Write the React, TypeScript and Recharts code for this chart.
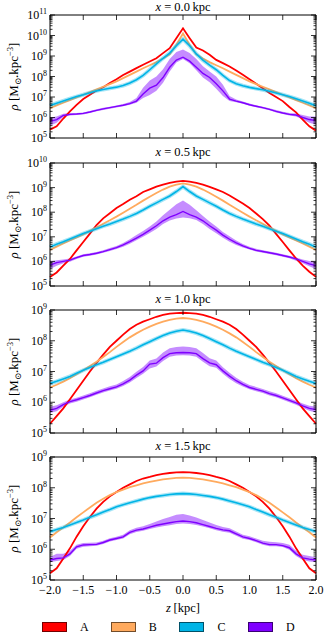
import React from 'react';
import { ComposedChart, Line, Area, XAxis, YAxis } from 'recharts';

// z grid in kpc
const zValues = [
  -2.0, -1.9, -1.8, -1.7, -1.6, -1.5, -1.4, -1.3, -1.2, -1.1, -1.0, -0.9, -0.8, -0.7,
  -0.6, -0.5, -0.4, -0.3, -0.2, -0.1, 0.0, 0.1, 0.2, 0.3, 0.4, 0.5, 0.6, 0.7, 0.8, 0.9,
  1.0, 1.1, 1.2, 1.3, 1.4, 1.5, 1.6, 1.7, 1.8, 1.9, 2.0,
];

// all densities below are log10(rho)
// x = 0.0 kpc
const a0 = [5.41, 5.57, 5.95, 6.30, 6.62, 6.90, 7.11, 7.32, 7.48, 7.68, 7.87, 8.07, 8.24, 8.41, 8.57, 8.73, 8.89, 9.14, 9.38, 9.87, 10.35,
  9.87, 9.41, 9.27, 9.06, 8.81, 8.65, 8.49, 8.29, 8.08, 7.87, 7.65, 7.43, 7.19, 7.00, 6.80, 6.51, 6.25, 5.90, 5.57, 5.36];
const b0 = [6.46, 6.59, 6.72, 6.85, 6.98, 7.11, 7.24, 7.37, 7.50, 7.63, 7.76, 7.92, 8.08, 8.24, 8.40, 8.55, 8.70, 8.88, 9.08, 9.55, 10.10,
  9.55, 9.08, 8.88, 8.70, 8.55, 8.40, 8.24, 8.08, 7.92, 7.76, 7.63, 7.50, 7.37, 7.24, 7.11, 6.98, 6.85, 6.72, 6.59, 6.46];
const c0 = [6.58, 6.70, 6.81, 6.92, 7.02, 7.11, 7.21, 7.30, 7.37, 7.43, 7.48, 7.56, 7.68, 7.84, 8.05, 8.33, 8.62, 8.89, 9.14, 9.50, 9.82,
  9.50, 9.10, 8.80, 8.55, 8.33, 8.05, 7.80, 7.65, 7.55, 7.47, 7.41, 7.35, 7.28, 7.20, 7.11, 7.02, 6.92, 6.81, 6.69, 6.57];
const d0 = [5.81, 5.90, 6.10, 6.15, 6.17, 6.20, 6.27, 6.35, 6.42, 6.48, 6.54, 6.60, 6.68, 6.80, 7.15, 7.43, 7.58, 7.95, 8.45, 8.80, 8.94,
  8.75, 8.45, 8.15, 7.95, 7.65, 7.30, 6.90, 6.80, 6.72, 6.62, 6.55, 6.48, 6.40, 6.30, 6.22, 6.15, 6.12, 6.00, 5.90, 5.85];
const dLo0 = [5.60, 5.75, 6.02, 6.10, 6.12, 6.15, 6.22, 6.30, 6.37, 6.43, 6.49, 6.55, 6.62, 6.72, 6.95, 7.10, 7.30, 7.70, 8.25, 8.68, 8.85,
  8.65, 8.30, 7.95, 7.72, 7.40, 7.05, 6.80, 6.74, 6.67, 6.57, 6.50, 6.43, 6.35, 6.25, 6.17, 6.10, 6.05, 5.90, 5.75, 5.65];
const dHi0 = [6.00, 6.05, 6.18, 6.22, 6.22, 6.25, 6.32, 6.40, 6.47, 6.53, 6.59, 6.66, 6.76, 6.95, 7.45, 7.80, 8.00, 8.35, 8.85, 9.20, 9.32,
  9.15, 8.85, 8.50, 8.25, 8.00, 7.60, 7.05, 6.88, 6.78, 6.68, 6.60, 6.53, 6.45, 6.36, 6.28, 6.22, 6.20, 6.12, 6.05, 6.05];

// x = 0.5 kpc
const a1 = [5.37, 5.55, 5.83, 6.10, 6.45, 6.79, 7.13, 7.48, 7.75, 7.96, 8.17, 8.33, 8.51, 8.65, 8.82, 8.93, 9.04, 9.12, 9.19, 9.24, 9.27,
  9.24, 9.19, 9.12, 9.03, 8.93, 8.82, 8.68, 8.52, 8.35, 8.17, 7.95, 7.72, 7.45, 7.12, 6.79, 6.45, 6.12, 5.83, 5.58, 5.37];
const b1 = [6.47, 6.60, 6.73, 6.85, 6.97, 7.10, 7.24, 7.38, 7.53, 7.67, 7.82, 7.98, 8.14, 8.30, 8.47, 8.63, 8.78, 8.92, 9.04, 9.12, 9.17,
  9.12, 9.04, 8.92, 8.78, 8.63, 8.47, 8.30, 8.14, 7.98, 7.82, 7.67, 7.53, 7.38, 7.24, 7.10, 6.97, 6.85, 6.73, 6.60, 6.47];
const c1 = [6.58, 6.70, 6.80, 6.91, 7.02, 7.13, 7.23, 7.33, 7.43, 7.52, 7.62, 7.72, 7.83, 7.95, 8.09, 8.24, 8.38, 8.52, 8.66, 8.84, 9.04,
  8.84, 8.66, 8.52, 8.38, 8.24, 8.09, 7.95, 7.83, 7.72, 7.62, 7.52, 7.43, 7.33, 7.23, 7.13, 7.02, 6.91, 6.80, 6.70, 6.58];
const d1 = [5.85, 5.95, 6.00, 6.05, 6.15, 6.24, 6.28, 6.33, 6.40, 6.48, 6.56, 6.67, 6.80, 6.95, 7.10, 7.27, 7.45, 7.65, 7.80, 7.90, 8.03,
  7.90, 7.80, 7.65, 7.45, 7.27, 7.07, 6.90, 6.75, 6.63, 6.53, 6.45, 6.40, 6.35, 6.30, 6.24, 6.18, 6.10, 6.00, 5.90, 5.83];
const dLo1 = [5.68, 5.82, 5.92, 5.99, 6.10, 6.19, 6.23, 6.28, 6.35, 6.42, 6.50, 6.60, 6.72, 6.86, 7.00, 7.15, 7.32, 7.52, 7.66, 7.74, 7.78,
  7.75, 7.68, 7.52, 7.32, 7.14, 6.96, 6.80, 6.67, 6.57, 6.48, 6.40, 6.35, 6.30, 6.25, 6.19, 6.13, 6.03, 5.92, 5.80, 5.68];
const dHi1 = [6.00, 6.05, 6.08, 6.12, 6.20, 6.29, 6.33, 6.38, 6.45, 6.54, 6.63, 6.75, 6.90, 7.07, 7.24, 7.42, 7.62, 7.88, 8.10, 8.32, 8.48,
  8.30, 8.08, 7.85, 7.62, 7.42, 7.20, 7.02, 6.85, 6.71, 6.60, 6.51, 6.45, 6.40, 6.35, 6.29, 6.23, 6.16, 6.08, 6.02, 6.00];

// x = 1.0 kpc
const a2 = [5.30, 5.55, 5.80, 6.10, 6.40, 6.70, 7.00, 7.28, 7.55, 7.80, 8.00, 8.20, 8.38, 8.52, 8.62, 8.70, 8.78, 8.84, 8.88, 8.90, 8.91,
  8.90, 8.88, 8.84, 8.78, 8.70, 8.62, 8.52, 8.38, 8.20, 8.00, 7.80, 7.55, 7.28, 7.00, 6.70, 6.40, 6.10, 5.80, 5.55, 5.30];
const b2 = [6.48, 6.57, 6.67, 6.78, 6.91, 7.04, 7.18, 7.32, 7.47, 7.63, 7.80, 7.96, 8.11, 8.24, 8.36, 8.46, 8.55, 8.62, 8.68, 8.72, 8.74,
  8.72, 8.68, 8.62, 8.55, 8.46, 8.36, 8.24, 8.11, 7.96, 7.80, 7.63, 7.47, 7.32, 7.18, 7.04, 6.91, 6.78, 6.67, 6.57, 6.48];
const c2 = [6.61, 6.68, 6.76, 6.84, 6.94, 7.04, 7.13, 7.22, 7.30, 7.39, 7.48, 7.57, 7.66, 7.76, 7.87, 7.97, 8.07, 8.17, 8.25, 8.31, 8.35,
  8.31, 8.25, 8.17, 8.07, 7.97, 7.87, 7.76, 7.66, 7.57, 7.48, 7.39, 7.30, 7.22, 7.13, 7.04, 6.94, 6.84, 6.76, 6.68, 6.61];
const d2 = [5.74, 5.80, 5.92, 6.02, 6.08, 6.15, 6.22, 6.30, 6.38, 6.44, 6.50, 6.60, 6.72, 6.88, 7.02, 7.24, 7.27, 7.45, 7.58, 7.61, 7.62,
  7.61, 7.58, 7.42, 7.28, 7.22, 7.02, 6.85, 6.70, 6.58, 6.48, 6.42, 6.36, 6.28, 6.22, 6.14, 6.06, 5.98, 5.88, 5.80, 5.76];
const dLo2 = [5.65, 5.71, 5.85, 5.96, 6.02, 6.09, 6.16, 6.24, 6.32, 6.38, 6.44, 6.53, 6.64, 6.79, 6.93, 7.10, 7.16, 7.34, 7.48, 7.52, 7.53,
  7.52, 7.48, 7.32, 7.17, 7.12, 6.93, 6.76, 6.62, 6.51, 6.42, 6.36, 6.30, 6.22, 6.16, 6.08, 6.00, 5.92, 5.81, 5.72, 5.66];
const dHi2 = [5.85, 5.90, 6.00, 6.09, 6.15, 6.22, 6.29, 6.37, 6.45, 6.52, 6.58, 6.69, 6.82, 6.99, 7.15, 7.36, 7.42, 7.62, 7.76, 7.80, 7.81,
  7.80, 7.76, 7.60, 7.43, 7.36, 7.14, 6.96, 6.80, 6.67, 6.56, 6.50, 6.43, 6.36, 6.29, 6.21, 6.13, 6.05, 5.96, 5.89, 5.86];

// x = 1.5 kpc
const a3 = [5.22, 5.38, 5.70, 6.03, 6.41, 6.75, 7.05, 7.32, 7.54, 7.72, 7.86, 8.00, 8.11, 8.22, 8.30, 8.35, 8.41, 8.45, 8.48, 8.50, 8.51,
  8.50, 8.48, 8.45, 8.41, 8.35, 8.30, 8.22, 8.11, 8.00, 7.86, 7.72, 7.54, 7.32, 7.05, 6.75, 6.41, 6.03, 5.70, 5.38, 5.22];
const b3 = [6.38, 6.55, 6.71, 6.87, 7.04, 7.20, 7.36, 7.51, 7.64, 7.76, 7.86, 7.94, 8.02, 8.08, 8.14, 8.19, 8.23, 8.27, 8.30, 8.32, 8.33,
  8.32, 8.30, 8.27, 8.23, 8.19, 8.14, 8.08, 8.02, 7.94, 7.86, 7.76, 7.64, 7.51, 7.36, 7.20, 7.04, 6.87, 6.71, 6.55, 6.38];
const c3 = [6.57, 6.64, 6.71, 6.79, 6.87, 6.95, 7.04, 7.12, 7.21, 7.29, 7.38, 7.45, 7.51, 7.57, 7.63, 7.68, 7.72, 7.75, 7.78, 7.80, 7.81,
  7.80, 7.78, 7.75, 7.72, 7.68, 7.63, 7.57, 7.51, 7.45, 7.38, 7.29, 7.21, 7.12, 7.04, 6.95, 6.87, 6.79, 6.71, 6.64, 6.57];
const d3 = [5.65, 5.70, 5.72, 5.85, 6.08, 6.14, 6.15, 6.16, 6.22, 6.30, 6.35, 6.40, 6.55, 6.62, 6.66, 6.72, 6.78, 6.82, 6.86, 6.90, 6.92,
  6.90, 6.86, 6.80, 6.74, 6.68, 6.63, 6.60, 6.50, 6.40, 6.35, 6.28, 6.20, 6.15, 6.15, 6.12, 6.05, 5.85, 5.72, 5.68, 5.65];
const dLo3 = [5.58, 5.62, 5.65, 5.78, 6.02, 6.08, 6.10, 6.11, 6.17, 6.25, 6.30, 6.35, 6.49, 6.56, 6.60, 6.66, 6.71, 6.75, 6.78, 6.82, 6.84,
  6.82, 6.79, 6.74, 6.68, 6.62, 6.57, 6.54, 6.44, 6.34, 6.30, 6.23, 6.15, 6.10, 6.10, 6.07, 5.98, 5.78, 5.65, 5.60, 5.58];
const dHi3 = [5.75, 5.85, 5.85, 5.95, 6.15, 6.20, 6.21, 6.22, 6.28, 6.36, 6.41, 6.47, 6.62, 6.70, 6.75, 6.82, 6.90, 6.98, 7.05, 7.12, 7.15,
  7.10, 7.03, 6.95, 6.87, 6.79, 6.72, 6.68, 6.58, 6.47, 6.42, 6.35, 6.28, 6.24, 6.23, 6.20, 6.15, 5.95, 5.82, 5.78, 5.74];

const panelTitles = ['0.0', '0.5', '1.0', '1.5'];
const panelTopDecade = [11, 10, 9, 9];
const bottomDecade = 5;
const xTicks = [-2.0, -1.5, -1.0, -0.5, 0.0, 0.5, 1.0, 1.5, 2.0];
const seriesNames = ['A', 'B', 'C', 'D'];
const seriesColors = ['#ff0000', '#ffaa5e', '#00b4e6', '#7f00ff'];

const panelSeries = [
  [a0, b0, c0, d0, dLo0, dHi0],
  [a1, b1, c1, d1, dLo1, dHi1],
  [a2, b2, c2, d2, dLo2, dHi2],
  [a3, b3, c3, d3, dLo3, dHi3],
];

const serif = '"Liberation Serif", "DejaVu Serif", serif';
const W = 334;
const plotTops = [15, 163, 310, 457];
const plotH = 123;
const PAD = 12;

const pow = (v: number) => Math.pow(10, v);

function buildRows(s: number[][]) {
  return zValues.map((z, i) => ({
    z,
    A: pow(s[0][i]),
    B: pow(s[1][i]),
    C: pow(s[2][i]),
    D: pow(s[3][i]),
    band: [pow(s[4][i]), pow(s[5][i])],
  }));
}

function logTicks(top: number) {
  const out: number[] = [];
  for (let e = bottomDecade; e < top; e++) {
    for (let k = 1; k < 10; k++) out.push(k * Math.pow(10, e));
  }
  out.push(Math.pow(10, top));
  return out;
}

function isMajor(v: number) {
  const l = Math.log10(v);
  return Math.abs(l - Math.round(l)) < 1e-6;
}

const YTickLeft = (props: any) => {
  const { x, y, payload } = props;
  const major = isMajor(payload.value);
  return (
    <g>
      <line x1={x} x2={x + (major ? 5 : 2.5)} y1={y} y2={y} stroke="#000" strokeWidth={0.8} />
      {major && (
        <text x={x - 3} y={y + 4} textAnchor="end" fontSize={12} fontFamily={serif} fill="#000">
          10<tspan dy={-5} fontSize={8}>{Math.round(Math.log10(payload.value))}</tspan>
        </text>
      )}
    </g>
  );
};

const YTickRight = (props: any) => {
  const { x, y, payload } = props;
  const major = isMajor(payload.value);
  return <line x1={x} x2={x - (major ? 5 : 2.5)} y1={y} y2={y} stroke="#000" strokeWidth={0.8} />;
};

const fmtZ = (v: number) => v.toFixed(1).replace('-', '\u2212');

const makeXTickBottom = (showLabel: boolean) => (props: any) => {
  const { x, y, payload } = props;
  return (
    <g>
      <line x1={x} x2={x} y1={y} y2={y - 5} stroke="#000" strokeWidth={0.8} />
      {showLabel && (
        <text x={x} y={y + 14} textAnchor="middle" fontSize={12} fontFamily={serif} fill="#000">
          {fmtZ(payload.value)}
        </text>
      )}
    </g>
  );
};

const XTickTop = (props: any) => {
  const { x, y } = props;
  return <line x1={x} x2={x} y1={y} y2={y + 5} stroke="#000" strokeWidth={0.8} />;
};

const YLabel = (props: any) => {
  const vb = props.viewBox || {};
  const cy = (vb.y || 0) + (vb.height || 0) / 2;
  const cx = 18;
  return (
    <text
      x={cx}
      y={cy}
      transform={`rotate(-90, ${cx}, ${cy})`}
      textAnchor="middle"
      fontSize={13}
      fontFamily={serif}
      fill="#000"
    >
      <tspan fontStyle="italic">ρ</tspan>
      <tspan> [M</tspan>
      <tspan dy={3} fontSize={8.5}>⊙</tspan>
      <tspan dy={-3}>.kpc</tspan>
      <tspan dy={-5} fontSize={8.5}>−3</tspan>
      <tspan dy={5}>]</tspan>
    </text>
  );
};

function Panel({ index }: { index: number }) {
  const rows = buildRows(panelSeries[index]);
  const top = panelTopDecade[index];
  const last = index === panelTitles.length - 1;
  const bottomPad = last ? 40 : PAD;
  const titleCenter = Math.max(plotTops[index] - 11, 7);
  return (
    <>
      <div style={{ position: 'absolute', left: 0, top: plotTops[index] - PAD }}>
        <ComposedChart
          width={W}
          height={plotH + PAD + bottomPad}
          data={rows}
          margin={{ top: PAD - 1, right: 17, bottom: bottomPad - 1, left: 0 }}
        >
          <XAxis
            xAxisId="b"
            dataKey="z"
            type="number"
            domain={[-2, 2]}
            ticks={xTicks}
            interval={0}
            height={1}
            tickSize={0}
            tickMargin={0}
            tickLine={false}
            axisLine={{ stroke: '#000', strokeWidth: 1 }}
            tick={makeXTickBottom(last)}
          />
          <XAxis
            xAxisId="t"
            orientation="top"
            dataKey="z"
            type="number"
            domain={[-2, 2]}
            ticks={xTicks}
            interval={0}
            height={1}
            tickSize={0}
            tickMargin={0}
            tickLine={false}
            axisLine={{ stroke: '#000', strokeWidth: 1 }}
            tick={XTickTop}
          />
          <YAxis
            yAxisId="l"
            scale="log"
            domain={[Math.pow(10, bottomDecade), Math.pow(10, top)]}
            allowDataOverflow
            ticks={logTicks(top)}
            interval={0}
            width={50}
            tickSize={0}
            tickMargin={0}
            tickLine={false}
            axisLine={{ stroke: '#000', strokeWidth: 1 }}
            tick={YTickLeft}
            label={{ content: YLabel }}
          />
          <YAxis
            yAxisId="r"
            orientation="right"
            scale="log"
            domain={[Math.pow(10, bottomDecade), Math.pow(10, top)]}
            allowDataOverflow
            ticks={logTicks(top)}
            interval={0}
            width={1}
            tickSize={0}
            tickMargin={0}
            tickLine={false}
            axisLine={{ stroke: '#000', strokeWidth: 1 }}
            tick={YTickRight}
          />
          <Line xAxisId="b" yAxisId="l" dataKey="A" type="linear" stroke={seriesColors[0]} strokeWidth={1.8} dot={false} isAnimationActive={false} />
          <Line xAxisId="b" yAxisId="l" dataKey="B" type="linear" stroke={seriesColors[1]} strokeWidth={1.8} dot={false} isAnimationActive={false} />
          <Line xAxisId="b" yAxisId="l" dataKey="C" type="linear" stroke={seriesColors[2]} strokeWidth={4} strokeOpacity={0.35} dot={false} isAnimationActive={false} />
          <Line xAxisId="b" yAxisId="l" dataKey="C" type="linear" stroke={seriesColors[2]} strokeWidth={1.6} dot={false} isAnimationActive={false} />
          <Area xAxisId="b" yAxisId="l" dataKey="band" type="linear" stroke="none" fill={seriesColors[3]} fillOpacity={0.45} isAnimationActive={false} />
          <Line xAxisId="b" yAxisId="l" dataKey="D" type="linear" stroke={seriesColors[3]} strokeWidth={1.4} dot={false} isAnimationActive={false} />
        </ComposedChart>
      </div>
      <div
        style={{
          position: 'absolute',
          left: 50,
          width: 266,
          top: titleCenter - 7,
          height: 14,
          textAlign: 'center',
          fontFamily: serif,
          fontSize: 12.5,
          lineHeight: '14px',
          whiteSpace: 'nowrap',
        }}
      >
        <i>x</i> = {panelTitles[index]}&#8201;kpc
      </div>
    </>
  );
}

export default function App() {
  return (
    <div style={{ position: 'absolute', left: 0, top: 0, width: W, height: 633, background: '#fff', overflow: 'hidden' }}>
      {panelTitles.map((_, i) => (
        <Panel key={i} index={i} />
      ))}
      <div
        style={{
          position: 'absolute',
          left: 50,
          width: 266,
          top: 601,
          textAlign: 'center',
          fontFamily: serif,
          fontSize: 12.5,
          lineHeight: '14px',
        }}
      >
        <i>z</i>&#8201;[kpc]
      </div>
      {seriesNames.map((name, i) => (
        <div key={name} style={{ position: 'absolute', left: 42 + i * 68.7, top: 622, display: 'flex', alignItems: 'center' }}>
          <div
            style={{
              width: 23,
              height: 8,
              background: seriesColors[i],
              border: '1px solid rgba(0,0,0,0.55)',
            }}
          />
          <span style={{ marginLeft: 13, fontFamily: serif, fontSize: 12, lineHeight: '10px' }}>{name}</span>
        </div>
      ))}
    </div>
  );
}
